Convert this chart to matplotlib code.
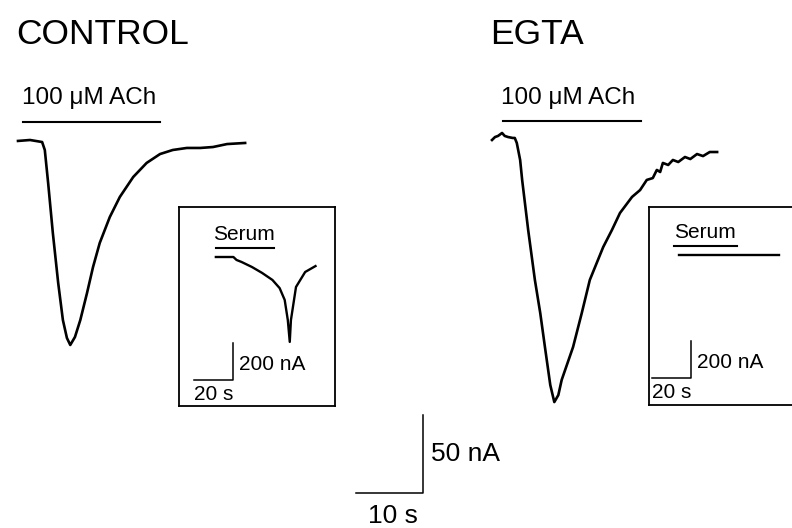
import matplotlib.pyplot as plt

plt.rcParams['font.family'] = ['Liberation Sans', 'DejaVu Sans']

W, H = 792, 528

# main traces: time (s) and current (nA)
ctrl_t = [0, 1.8, 3.6, 4.0, 4.5, 5.2, 6.0, 6.7, 7.3, 7.8, 8.5, 9.3, 10.3, 11.2, 12.2,
          13.7, 15.2, 17.2, 19.2, 21.2, 23.1, 25.2, 27.2, 29.1, 31.2, 33.9]
ctrl_i = [-0.6, 0, -1.3, -6.4, -27.6, -59.6, -91.7, -115.4, -126.9, -131.4, -126.3,
          -115.4, -98.1, -81.4, -66.0, -49.4, -36.5, -23.7, -14.7, -9.0, -6.4, -5.1,
          -5.1, -4.5, -2.6, -1.9]

egta_t = [0, 0.45, 0.9, 1.5, 1.9, 2.4, 3.1, 3.4, 3.7, 4.2, 4.5, 5.4, 6.4, 7.2, 7.9,
          8.7, 9.3, 9.9, 10.4, 12.1, 13.4, 14.6, 16.6, 17.9, 19.1, 20.9, 22.1, 23.1,
          24.0, 24.6, 25.1, 25.5, 26.3, 27.0, 27.8, 28.8, 29.6, 30.6, 31.5, 32.5, 33.6]
egta_i = [0, 1.9, 2.6, 4.5, 2.6, 1.9, 1.3, 1.3, -1.9, -12.8, -25.6, -57.7, -89.7,
          -110.9, -132.7, -157.1, -168.0, -163.5, -153.8, -132.7, -110.9, -89.7, -68.6,
          -57.7, -46.8, -36.5, -32.1, -25.6, -24.4, -19.2, -20.5, -14.7, -16.0, -12.8,
          -14.1, -10.9, -12.2, -9.0, -10.3, -7.7, -7.7]

ach_on = [0.75, 21.2]     # ACh application, s
ach_on_egta = [1.6, 22.2]

# inset traces (serum)
ins_ctrl_t = [18.9, 27.9, 29.5, 32.1, 37.4, 42.6, 47.9, 51.6, 54.2, 55.8, 56.8, 57.4,
              60.0, 64.7, 70.0]
ins_ctrl_i = [0, 0, -16, -27, -54, -86, -124, -168, -232, -341, -459, -341, -162,
              -81, -49]
ins_egta_t = [15.3, 40.0, 66.8]
ins_egta_i = [0, 0, 0]
serum_ctrl = [18.9, 48.9]
serum_egta = [12.6, 45.3]

fig = plt.figure(figsize=(W / 100, H / 100), dpi=100)


def panel(box, origin, sx, sy):
    # box in pixels (left, top, right, bottom); origin = pixel of t=0, I=0
    l, t, r, b = box
    ax = fig.add_axes([l / W, 1 - b / H, (r - l) / W, (b - t) / H])
    ax.set_xlim((l - origin[0]) / sx, (r - origin[0]) / sx)
    ax.set_ylim(-(b - origin[1]) / sy, -(t - origin[1]) / sy)
    ax.axis('off')
    return ax


ax_c = panel((0, 0, W, H), (18, 140), 6.7, 1.56)
ax_e = panel((0, 0, W, H), (492, 140), 6.7, 1.56)

ax_c.plot(ctrl_t, ctrl_i, color='black', lw=1.9, solid_joinstyle='round')
ax_e.plot(egta_t, egta_i, color='black', lw=1.9, solid_joinstyle='round')
ax_c.plot(ach_on, [11.5, 11.5], color='black', lw=1.5)
ax_e.plot(ach_on_egta, [12.2, 12.2], color='black', lw=1.5)
ax_c.text(0.6, 20, '100 \u03bcM ACh', fontsize=17.5, va='bottom', ha='left')
ax_e.text(1.4, 20, '100 \u03bcM ACh', fontsize=17.5, va='bottom', ha='left')

# main scale bar: 10 s / 50 nA
ax_c.plot([50.4, 60.4, 60.4], [-226, -226, -176], color='black', lw=1.1)
ax_c.text(61.6, -201, '50 nA', fontsize=19, va='center', ha='left')
ax_c.text(56.0, -241, '10 s', fontsize=19, va='center', ha='center')

fig.text(16 / W, 1 - 35 / H, 'CONTROL', fontsize=25.5, va='center', ha='left')
fig.text(490 / W, 1 - 35 / H, 'EGTA', fontsize=25.5, va='center', ha='left')

# insets
for box, origin, tr_t, tr_i, serum, txt_x in [
        ((179, 207, 335, 406), (179, 257), ins_ctrl_t, ins_ctrl_i, serum_ctrl, 33.2),
        ((649, 207, 805, 405), (649, 255), ins_egta_t, ins_egta_i, serum_egta, 28.9)]:
    ax = panel(box, origin, 1.95, 0.185)
    ax.axis('on')
    ax.set_xticks([])
    ax.set_yticks([])
    for s in ax.spines.values():
        s.set_linewidth(1.3)
    ax.plot(tr_t, tr_i, color='black', lw=1.7)
    ax.plot(serum, [50, 50], color='black', lw=1.5)
    ax.text(txt_x, 72, 'Serum', fontsize=15, ha='center', va='bottom')
    x0 = serum[0] - 11
    ax.plot([x0, x0 + 20, x0 + 20], [-665, -665, -465], color='black', lw=1.1)
    ax.text(x0 + 23, -580, '200 nA', fontsize=15, ha='left', va='center')
    ax.text(x0, -745, '20 s', fontsize=15, ha='left', va='center')

fig.savefig('out.png', dpi=100)
